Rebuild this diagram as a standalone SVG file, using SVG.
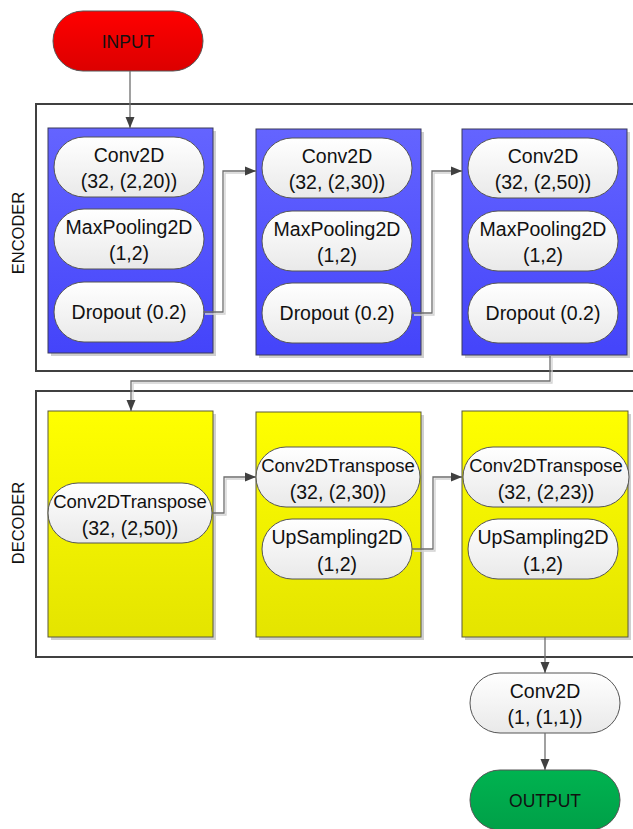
<svg xmlns="http://www.w3.org/2000/svg" width="633" height="829" viewBox="0 0 633 829">
<style>
text{font-family:"Liberation Sans",Arial,sans-serif;fill:#111;text-anchor:middle}
.t{font-size:19.5px}
.tt{font-size:18.5px}
.lbl{font-size:16.5px}
.frame{fill:none;stroke:#404040;stroke-width:2}
.shadow{fill:#cfcfcf}
.blue{fill:url(#gBlue);stroke:#3a3a5a;stroke-width:1}
.yellow{fill:url(#gYellow);stroke:#5a5a3a;stroke-width:1}
.pill{fill:url(#gPill);stroke:#555;stroke-width:1}
.con{fill:none;stroke:#6e6e6e;stroke-width:1.3}
.conS{fill:none;stroke:#d2d2d2;stroke-width:1.3}
</style>
<defs>
<linearGradient id="gRed" x1="0" y1="0" x2="0" y2="1"><stop offset="0" stop-color="#ff0000"/><stop offset="1" stop-color="#dc0000"/></linearGradient>
<linearGradient id="gGreen" x1="0" y1="0" x2="0" y2="1"><stop offset="0" stop-color="#00b350"/><stop offset="1" stop-color="#00a048"/></linearGradient>
<linearGradient id="gBlue" x1="0" y1="0" x2="0" y2="1"><stop offset="0" stop-color="#6464ff"/><stop offset="1" stop-color="#4444fa"/></linearGradient>
<linearGradient id="gYellow" x1="0" y1="0" x2="0" y2="1"><stop offset="0" stop-color="#ffff00"/><stop offset="1" stop-color="#e4e400"/></linearGradient>
<linearGradient id="gPill" x1="0" y1="0" x2="0" y2="1"><stop offset="0" stop-color="#ffffff"/><stop offset="1" stop-color="#e9e9e9"/></linearGradient>
<marker id="arr" markerUnits="userSpaceOnUse" markerWidth="12" markerHeight="10" refX="11" refY="5" orient="auto"><path d="M0,0.5 L11,5 L0,9.5 z" fill="#404040"/></marker>
</defs>

<g id="encoder-frame">
<rect class="frame" x="36" y="104" width="620" height="267"/>
<text class="lbl" transform="translate(24,233) rotate(-90)">ENCODER</text>
</g>
<g id="decoder-frame">
<rect class="frame" x="36" y="391" width="620" height="266"/>
<text class="lbl" transform="translate(24,523) rotate(-90)">DECODER</text>
</g>

<g id="input">
<rect x="53" y="11" width="150" height="60" rx="30" fill="url(#gRed)" stroke="#555" stroke-width="1"/>
<text x="128" y="48" style="font-size:17.5px">INPUT</text>
</g>

<g id="enc1">
<rect class="shadow" x="51" y="131" width="165" height="225"/>
<rect class="blue" x="48" y="128" width="165" height="225"/>
<rect class="pill" x="54" y="137" width="150" height="60" rx="30"/>
<text class="t" x="129" y="162">Conv2D</text><text class="t" x="129" y="188">(32, (2,20))</text>
<rect class="pill" x="54" y="209" width="150" height="60" rx="30"/>
<text class="t" x="129" y="234">MaxPooling2D</text><text class="t" x="129" y="260">(1,2)</text>
<rect class="pill" x="54" y="282" width="150" height="60" rx="30"/>
<text class="t" x="129" y="319">Dropout (0.2)</text>
</g>

<g id="enc2">
<rect class="shadow" x="259" y="132" width="165" height="226"/>
<rect class="blue" x="256" y="129" width="165" height="226"/>
<rect class="pill" x="262" y="138" width="150" height="60" rx="30"/>
<text class="t" x="337" y="163">Conv2D</text><text class="t" x="337" y="189">(32, (2,30))</text>
<rect class="pill" x="262" y="211" width="150" height="60" rx="30"/>
<text class="t" x="337" y="236">MaxPooling2D</text><text class="t" x="337" y="262">(1,2)</text>
<rect class="pill" x="262" y="283" width="150" height="60" rx="30"/>
<text class="t" x="337" y="320">Dropout (0.2)</text>
</g>

<g id="enc3">
<rect class="shadow" x="465" y="132" width="165" height="226"/>
<rect class="blue" x="462" y="129" width="165" height="226"/>
<rect class="pill" x="468" y="138" width="150" height="60" rx="30"/>
<text class="t" x="543" y="163">Conv2D</text><text class="t" x="543" y="189">(32, (2,50))</text>
<rect class="pill" x="468" y="211" width="150" height="60" rx="30"/>
<text class="t" x="543" y="236">MaxPooling2D</text><text class="t" x="543" y="262">(1,2)</text>
<rect class="pill" x="468" y="283" width="150" height="60" rx="30"/>
<text class="t" x="543" y="320">Dropout (0.2)</text>
</g>

<g id="dec1">
<rect class="shadow" x="51" y="414" width="165" height="226"/>
<rect class="yellow" x="48" y="411" width="165" height="226"/>
<rect class="pill" x="48" y="483" width="164" height="60" rx="30"/>
<text class="tt" x="130" y="508">Conv2DTranspose</text><text class="t" x="130" y="535">(32, (2,50))</text>
</g>

<g id="dec2">
<rect class="shadow" x="259" y="415" width="165" height="225"/>
<rect class="yellow" x="256" y="412" width="165" height="225"/>
<rect class="pill" x="256" y="447" width="164" height="60" rx="30"/>
<text class="tt" x="338" y="472">Conv2DTranspose</text><text class="t" x="338" y="499">(32, (2,30))</text>
<rect class="pill" x="262" y="519" width="150" height="60" rx="30"/>
<text class="t" x="337" y="544">UpSampling2D</text><text class="t" x="337" y="571">(1,2)</text>
</g>

<g id="dec3">
<rect class="shadow" x="465" y="414" width="166" height="226"/>
<rect class="yellow" x="462" y="411" width="166" height="226"/>
<rect class="pill" x="463" y="447" width="166" height="60" rx="30"/>
<text class="tt" x="546" y="472">Conv2DTranspose</text><text class="t" x="546" y="499">(32, (2,23))</text>
<rect class="pill" x="468" y="519" width="150" height="60" rx="30"/>
<text class="t" x="543" y="544">UpSampling2D</text><text class="t" x="543" y="571">(1,2)</text>
</g>

<g id="conv-final">
<rect class="pill" x="470" y="673" width="150" height="60" rx="30"/>
<text class="t" x="545" y="698">Conv2D</text><text class="t" x="545" y="724">(1, (1,1))</text>
</g>

<g id="output">
<rect x="470" y="770" width="150" height="60" rx="30" fill="url(#gGreen)" stroke="#555" stroke-width="1"/>
<text x="545" y="807" style="font-size:17.5px">OUTPUT</text>
</g>

<g id="connectors">
<g transform="translate(2,2)">
<path class="conS" d="M203,312 H223 V171 H246"/>
<path class="conS" d="M412,313 H432 V171 H452"/>
<path class="conS" d="M550,356 V381 H131 V400"/>
<path class="conS" d="M212,513 H224 V477 H246"/>
<path class="conS" d="M412,549 H433 V477 H452"/>
</g>
<path class="con" d="M130,71 V128" marker-end="url(#arr)"/>
<path class="con" d="M203,312 H223 V171 H256" marker-end="url(#arr)"/>
<path class="con" d="M412,313 H432 V171 H462" marker-end="url(#arr)"/>
<path class="con" d="M550,356 V381 H131 V411" marker-end="url(#arr)"/>
<path class="con" d="M212,513 H224 V477 H256" marker-end="url(#arr)"/>
<path class="con" d="M412,549 H433 V477 H462" marker-end="url(#arr)"/>
<path class="con" d="M545,637 V673" marker-end="url(#arr)"/>
<path class="con" d="M545,733 V770" marker-end="url(#arr)"/>
</g>
</svg>
